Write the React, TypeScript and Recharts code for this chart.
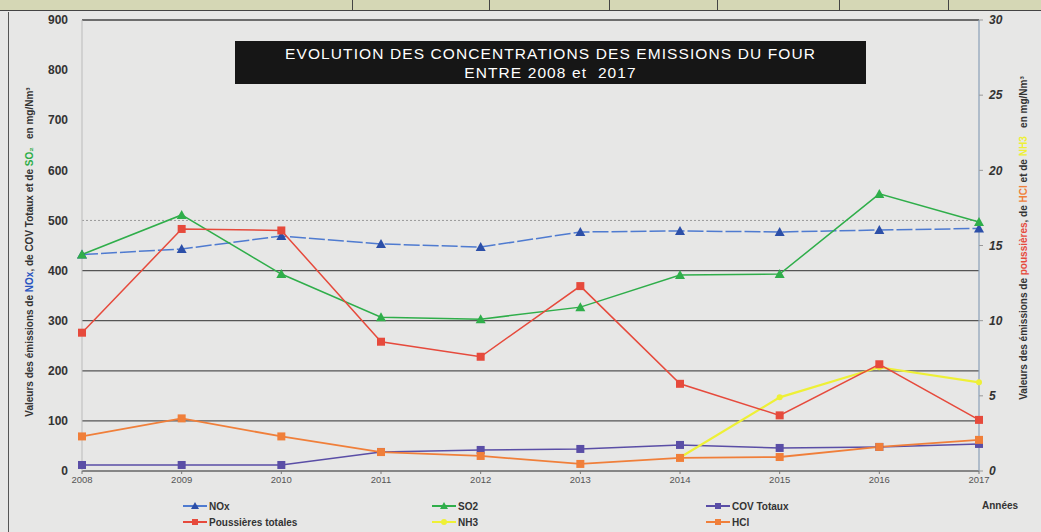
import React from 'react';
import { LineChart, Line, XAxis, YAxis, ReferenceLine } from 'recharts';

const years = [2008, 2009, 2010, 2011, 2012, 2013, 2014, 2015, 2016, 2017];
// left axis (mg/Nm3)
const nox = [432, 443, 469, 453, 447, 477, 479, 477, 481, 484];
const so2 = [432, 511, 393, 307, 303, 327, 391, 393, 553, 497];
const cov = [12, 12, 12, 38, 42, 44, 52, 46, 48, 54];
// right axis (mg/Nm3)
const poussieres = [9.2, 16.1, 16.0, 8.6, 7.6, 12.3, 5.8, 3.7, 7.1, 3.4];
const hcl = [2.3, 3.5, 2.3, 1.26, 1.0, 0.47, 0.87, 0.93, 1.6, 2.07];
const nh3 = [null, null, null, null, null, null, 0.9, 4.9, 6.9, 5.9];

const leftTicks = [0, 100, 200, 300, 400, 500, 600, 700, 800, 900];
const rightTicks = [0, 5, 10, 15, 20, 25, 30];
const gridValues = [100, 200, 300, 400];

const data = years.map((y, i) => ({
  year: y,
  nox: nox[i],
  so2: so2[i],
  cov: cov[i],
  poussieres: poussieres[i],
  hcl: hcl[i],
  nh3: nh3[i],
}));

const C = {
  nox: '#4f7bd0',
  noxMark: '#2c4fa8',
  so2: '#2fae4a',
  cov: '#5a4ea6',
  pouss: '#e64a3c',
  hcl: '#f07f3a',
  nh3: '#eef036',
};

const Tri = (color: string) => (props: any) => {
  const { cx, cy } = props;
  if (cx == null || cy == null) return null;
  return <polygon points={`${cx},${cy - 5} ${cx - 5},${cy + 4} ${cx + 5},${cy + 4}`} fill={color} />;
};
const Sq = (color: string) => (props: any) => {
  const { cx, cy, value } = props;
  if (cx == null || cy == null || value == null) return null;
  return <rect x={cx - 4} y={cy - 4} width={8} height={8} fill={color} />;
};
const Dot = (color: string) => (props: any) => {
  const { cx, cy, value, index } = props;
  if (cx == null || cy == null || value == null || index === 6) return null;
  return <circle cx={cx} cy={cy} r={3} fill={color} />;
};

const legendItems = [
  { name: 'NOx', color: C.nox, mark: 'tri', markColor: C.noxMark, col: 0, row: 0 },
  { name: 'SO2', color: C.so2, mark: 'tri', markColor: C.so2, col: 1, row: 0 },
  { name: 'COV Totaux', color: C.cov, mark: 'sq', markColor: C.cov, col: 2, row: 0 },
  { name: 'Poussières totales', color: C.pouss, mark: 'sq', markColor: C.pouss, col: 0, row: 1 },
  { name: 'NH3', color: C.nh3, mark: 'dot', markColor: C.nh3, col: 1, row: 1 },
  { name: 'HCl', color: C.hcl, mark: 'sq', markColor: C.hcl, col: 2, row: 1 },
];
const legendCols = [183, 432, 706];

const font = '"Liberation Sans", Arial, sans-serif';

export default function App() {
  return (
    <div style={{ position: 'absolute', left: 0, top: 0, width: 1041, height: 532, background: '#e7e7e6', overflow: 'hidden', fontFamily: font }}>
      {/* top table strip */}
      <div style={{ position: 'absolute', left: 0, top: 0, width: 1041, height: 10, background: '#d5d7b5', borderBottom: '1.5px solid #444' }} />
      {[352, 489, 609, 717, 839, 948].map((x) => (
        <div key={x} style={{ position: 'absolute', left: x, top: 0, width: 1, height: 10, background: '#444' }} />
      ))}
      <div style={{ position: 'absolute', left: 8, top: 12, width: 1, height: 520, background: '#555' }} />

      <div style={{ position: 'absolute', left: 0, top: 0 }}>
        <LineChart width={1041} height={532} data={data} margin={{ top: 20, right: 12, bottom: 31, left: 8 }}>
          <XAxis
            dataKey="year"
            height={30}
            tick={{ fontSize: 9.5, fill: '#555', fontFamily: font }}
            tickLine={{ stroke: '#777' }}
            tickSize={3}
            axisLine={{ stroke: '#666', strokeWidth: 1.5 }}
            interval={0}
          />
          <YAxis
            yAxisId="left"
            orientation="left"
            width={74}
            domain={[0, 900]}
            ticks={leftTicks}
            tick={{ fontSize: 12, fill: '#333', fontWeight: 'bold', fontFamily: font }}
            tickLine={false}
            tickMargin={8}
            axisLine={{ stroke: '#bbb' }}
          />
          <YAxis
            yAxisId="right"
            orientation="right"
            width={50}
            domain={[0, 30]}
            ticks={rightTicks}
            tick={{ fontSize: 12, fill: '#333', fontWeight: 'bold', fontStyle: 'italic', fontFamily: font }}
            tickLine={{ stroke: '#999' }}
            tickSize={4}
            tickMargin={6}
            axisLine={{ stroke: '#8aa0b8', strokeWidth: 1.2 }}
          />
          {gridValues.map((v) => (
            <ReferenceLine key={v} yAxisId="left" y={v} stroke="#555" strokeWidth={1.3} />
          ))}
          <ReferenceLine yAxisId="left" y={500} stroke="#999" strokeDasharray="2 2" strokeWidth={1} />
          <ReferenceLine yAxisId="left" y={900} stroke="#444" strokeWidth={1.5} />

          <Line yAxisId="left" dataKey="nox" stroke={C.nox} strokeWidth={1.5} strokeDasharray="16 3" dot={Tri(C.noxMark)} isAnimationActive={false} />
          <Line yAxisId="left" dataKey="so2" stroke={C.so2} strokeWidth={1.5} dot={Tri(C.so2)} isAnimationActive={false} />
          <Line yAxisId="left" dataKey="cov" stroke={C.cov} strokeWidth={1.5} dot={Sq(C.cov)} isAnimationActive={false} />
          <Line yAxisId="right" dataKey="nh3" stroke={C.nh3} strokeWidth={2.2} dot={Dot(C.nh3)} isAnimationActive={false} connectNulls={false} />
          <Line yAxisId="right" dataKey="hcl" stroke={C.hcl} strokeWidth={1.8} dot={Sq(C.hcl)} isAnimationActive={false} />
          <Line yAxisId="right" dataKey="poussieres" stroke={C.pouss} strokeWidth={1.5} dot={Sq(C.pouss)} isAnimationActive={false} />
        </LineChart>
      </div>

      {/* title */}
      <div style={{ position: 'absolute', left: 235, top: 41, width: 631, height: 43, background: '#161616', color: '#fff', fontSize: 15.5, letterSpacing: 1.1, lineHeight: '19px', textAlign: 'center', paddingTop: 3, boxSizing: 'border-box' }}>
        <div>EVOLUTION DES CONCENTRATIONS DES EMISSIONS DU FOUR</div>
        <div>ENTRE 2008 et&nbsp; 2017</div>
      </div>

      {/* axis titles */}
      <svg width={1041} height={532} style={{ position: 'absolute', left: 0, top: 0, pointerEvents: 'none' }}>
        <text transform="translate(33,252) rotate(-90)" textAnchor="middle" fontSize={10} fontWeight="bold" fill="#333" fontFamily={font}>
          Valeurs des émissions de <tspan fill="#2a55c0">NOx</tspan>, de COV Totaux et de <tspan fill="#2fae4a">SO₂</tspan>&#160;&#160; en mg/Nm³
        </text>
        <text transform="translate(1027,238) rotate(-90)" textAnchor="middle" fontSize={10} fontWeight="bold" fill="#333" fontFamily={font}>
          Valeurs des émissions de <tspan fill="#e64a3c">poussières</tspan>, de <tspan fill="#f07f3a">HCl</tspan> et de <tspan fill="#eef036">NH3</tspan>&#160;&#160; en mg/Nm³
        </text>
        <text x={1000} y={509} textAnchor="middle" fontSize={10} fontWeight="bold" fill="#333" fontFamily={font}>Années</text>
        {legendItems.map((it) => {
          const x = legendCols[it.col];
          const y = 506 + it.row * 16;
          return (
            <g key={it.name}>
              <line x1={x} y1={y} x2={x + 24} y2={y} stroke={it.color} strokeWidth={2} />
              {it.mark === 'tri' && <polygon points={`${x + 12},${y - 4} ${x + 8},${y + 3} ${x + 16},${y + 3}`} fill={it.markColor} />}
              {it.mark === 'sq' && <rect x={x + 9} y={y - 3} width={6} height={6} fill={it.markColor} />}
              {it.mark === 'dot' && <circle cx={x + 12} cy={y} r={3} fill={it.markColor} />}
              <text x={x + 26} y={y + 4} fontSize={10} fontWeight="bold" fill="#333" fontFamily={font}>{it.name}</text>
            </g>
          );
        })}
      </svg>
    </div>
  );
}
